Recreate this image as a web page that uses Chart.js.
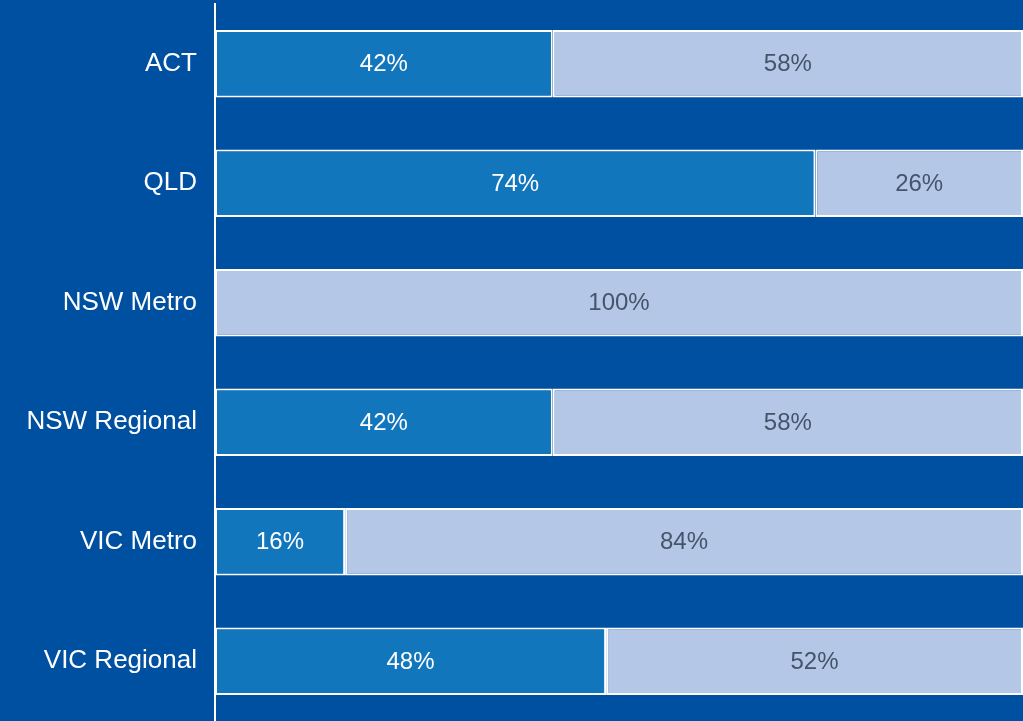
<!DOCTYPE html>
<html>
<head>
<meta charset="utf-8">
<script src="https://cdn.jsdelivr.net/npm/chart.js@4/dist/chart.umd.min.js"></script>
<style>
  html, body { margin: 0; padding: 0; background: #0050A2; }
  #wrap { width: 1023px; height: 721px; }
</style>
</head>
<body>
<div id="wrap"><canvas id="chart" width="1023" height="721"></canvas></div>
<script>
// Regions and share of each answer (percent)
const regions = ['ACT', 'QLD', 'NSW Metro', 'NSW Regional', 'VIC Metro', 'VIC Regional'];
const darkShare = [41.8, 74.3, 0, 41.8, 16.1, 48.4];
const lightShare = [58.2, 25.7, 100, 58.2, 83.9, 51.6];

// draw the % labels in the middle of each segment
const segmentLabels = {
    id: 'segmentLabels',
    afterDatasetsDraw(chart) {
        const ctx = chart.ctx;
        ctx.save();
        ctx.font = '24px "Liberation Sans", Arial, sans-serif';
        ctx.textAlign = 'center';
        ctx.textBaseline = 'middle';
        chart.data.datasets.forEach((ds, i) => {
            const meta = chart.getDatasetMeta(i);
            meta.data.forEach((bar, j) => {
                const v = ds.data[j];
                if (!v) return;
                const x = (bar.x + bar.base) / 2;
                ctx.fillStyle = i === 0 ? '#FFFFFF' : '#44546A';
                ctx.fillText(Math.round(v) + '%', x, bar.y + 1);
            });
        });
        ctx.restore();
    }
};

new Chart(document.getElementById('chart').getContext('2d'), {
    type: 'bar',
    data: {
        labels: regions,
        datasets: [
            {
                data: darkShare,
                backgroundColor: '#1276BD',
                borderColor: '#FFFFFF',
                borderWidth: 2,
                borderSkipped: false,
                barPercentage: 0.565,
                categoryPercentage: 1
            },
            {
                data: lightShare,
                backgroundColor: '#B4C7E7',
                borderColor: '#FFFFFF',
                borderWidth: 2,
                borderSkipped: false,
                barPercentage: 0.565,
                categoryPercentage: 1
            }
        ]
    },
    options: {
        indexAxis: 'y',
        responsive: false,
        animation: false,
        layout: { padding: { top: 4, right: 0, bottom: 0, left: 0 } },
        plugins: {
            legend: { display: false },
            tooltip: { enabled: false }
        },
        scales: {
            x: {
                stacked: true,
                min: 0,
                max: 100,
                display: false
            },
            y: {
                stacked: true,
                grid: { display: false, drawTicks: false },
                border: { display: true, color: '#FFFFFF', width: 2 },
                ticks: {
                    color: '#FFFFFF',
                    padding: 18,
                    font: { family: '"Liberation Sans", Arial, sans-serif', size: 26 }
                },
                afterFit(scale) {
                    scale.width = 215;
                    scale.paddingTop = 0;
                    scale.paddingBottom = 0;
                }
            }
        }
    },
    plugins: [segmentLabels]
});
</script>
</body>
</html>
